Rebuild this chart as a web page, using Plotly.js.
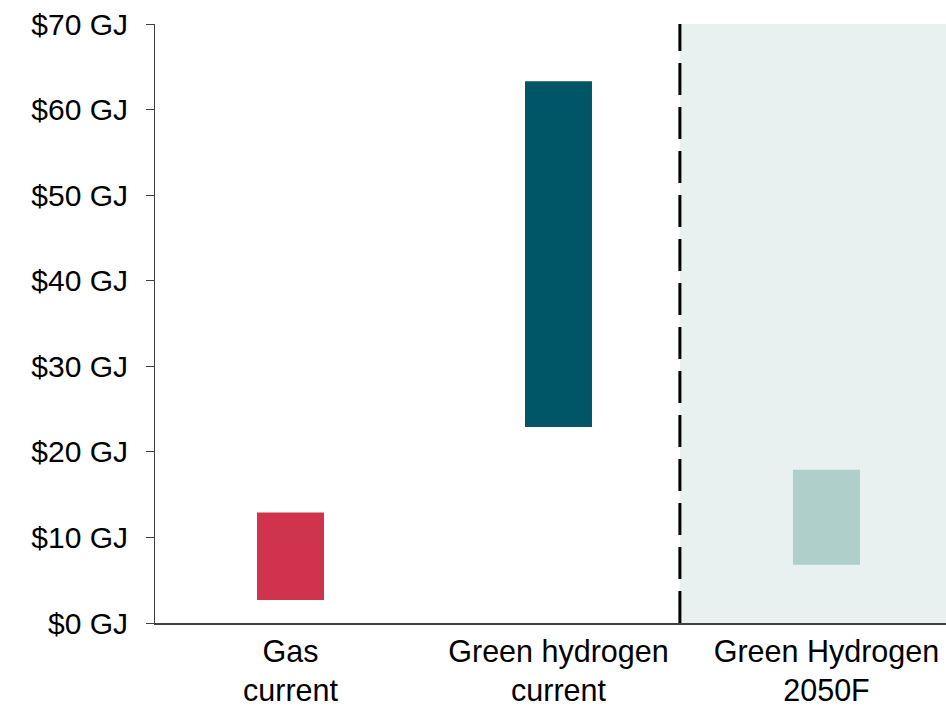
<!DOCTYPE html>
<html>
<head>
<meta charset="utf-8">
<script src="https://cdn.plot.ly/plotly-3.0.1.min.js"></script>
<style>
html,body{margin:0;padding:0;background:#fff;}
#chart{width:946px;height:708px;}
</style>
</head>
<body>
<div id="chart"></div>
<script>
const categories = ["Gas<br>current", "Green hydrogen<br>current", "Green Hydrogen<br>2050F"];
const lowValues = [2.7, 22.9, 6.8];
const highValues = [12.9, 63.3, 17.9];
const barColors = ["#D0344D", "#005666", "#AECFCA"];
const yTickValues = [0, 10, 20, 30, 40, 50, 60, 70];
const yTickLabels = ["$0 GJ", "$10 GJ", "$20 GJ", "$30 GJ", "$40 GJ", "$50 GJ", "$60 GJ", "$70 GJ"];
const dividerX = 1.453;

const xPos = categories.map((c, i) => i);

const trace = {
  type: "bar",
  x: xPos,
  y: highValues.map((h, i) => h - lowValues[i]),
  base: lowValues,
  width: 0.25,
  marker: { color: barColors },
  hoverinfo: "skip"
};

const font = { family: "Liberation Sans, Arial, sans-serif", size: 30, color: "#000" };
const xFont = { family: "Liberation Sans, Arial, sans-serif", size: 30.5, color: "#000" };

const layout = {
  width: 946,
  height: 708,
  margin: { l: 155, r: 0, t: 24, b: 85 },
  paper_bgcolor: "#fff",
  plot_bgcolor: "rgba(0,0,0,0)",
  showlegend: false,
  font: font,
  xaxis: {
    range: [-0.5056, 2.446],
    tickvals: xPos,
    ticktext: categories,
    showgrid: false,
    zeroline: false,
    showline: true,
    linecolor: "#404040",
    linewidth: 2,
    ticks: "",
    tickfont: xFont,
    fixedrange: true
  },
  yaxis: {
    range: [0, 70],
    tickvals: yTickValues,
    ticktext: yTickLabels,
    showgrid: false,
    zeroline: false,
    showline: true,
    linecolor: "#404040",
    linewidth: 1,
    ticks: "outside",
    ticklen: 8,
    tickcolor: "#404040",
    tickwidth: 1,
    tickfont: font,
    ticklabelstandoff: 12,
    fixedrange: true
  },
  shapes: [
    {
      type: "rect", xref: "x", yref: "y", layer: "below",
      x0: dividerX, x1: 2.446, y0: 0, y1: 70,
      fillcolor: "#E8F1F0", line: { width: 0 }
    },
    {
      type: "line", xref: "x", yref: "y",
      x0: dividerX, x1: dividerX, y0: 0, y1: 70,
      line: { color: "#000", width: 3, dash: "32px,12px" }
    }
  ]
};

Plotly.newPlot("chart", [trace], layout, { displayModeBar: false, staticPlot: true });
</script>
</body>
</html>
